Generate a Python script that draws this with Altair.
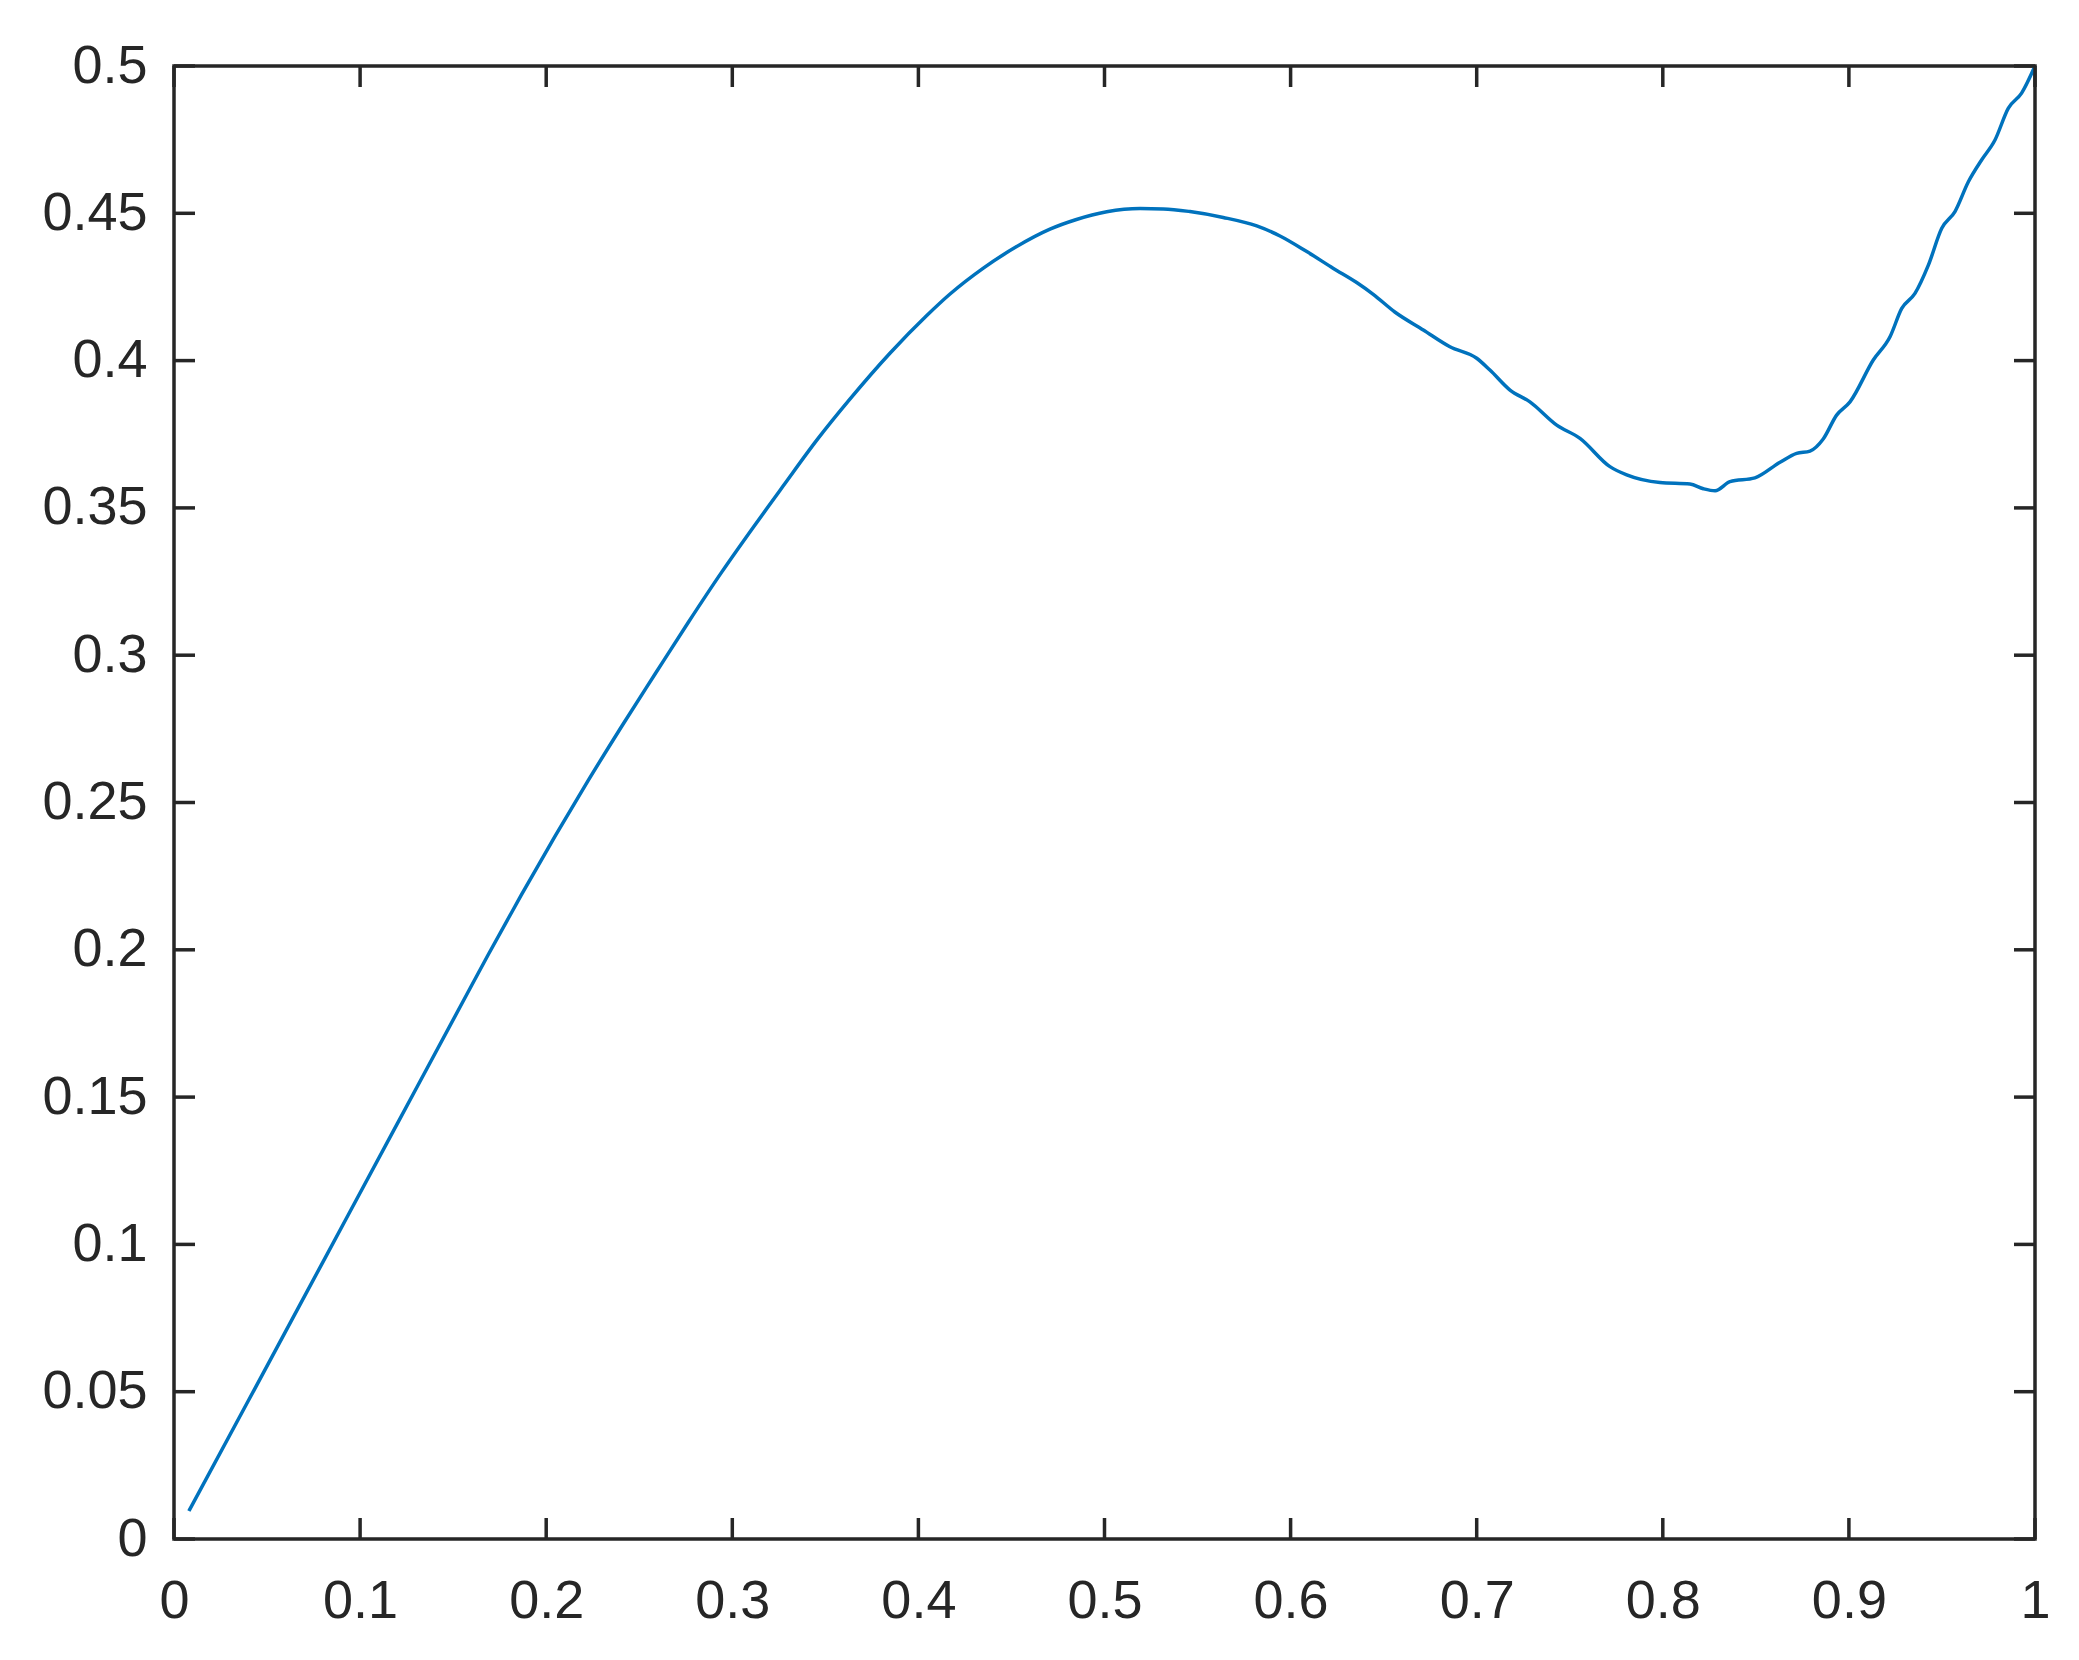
import altair as alt
import pandas as pd

# curve values
x_vals = [0.008, 0.040, 0.080, 0.120, 0.1555, 0.1689, 0.1868, 0.2047, 0.2226, 0.2406,
          0.2585, 0.2764, 0.2943, 0.3110, 0.3274, 0.3454, 0.3633, 0.3847, 0.4045, 0.4170,
          0.4349, 0.4528, 0.4707, 0.4845, 0.5012, 0.5191, 0.5316, 0.5459, 0.5638, 0.5818,
          0.5943, 0.6087, 0.6230, 0.6355, 0.6444, 0.6560, 0.6713, 0.6856, 0.7000, 0.7071,
          0.7179, 0.7286, 0.7430, 0.7555, 0.7716, 0.7806, 0.7985, 0.8146, 0.8218, 0.8281,
          0.8361, 0.8495, 0.8630, 0.8719, 0.8791, 0.8862, 0.8934, 0.9006, 0.9131, 0.9221,
          0.9284, 0.9355, 0.9427, 0.9499, 0.9570, 0.9642, 0.9713, 0.9785, 0.9857, 0.9928,
          1.0]
y_vals = [0.0095, 0.0470, 0.0940, 0.1410, 0.1827, 0.1984, 0.2188, 0.2385, 0.2575, 0.2759,
          0.2936, 0.3112, 0.3282, 0.3432, 0.3575, 0.3730, 0.3870, 0.4025, 0.4153, 0.4226,
          0.4314, 0.4387, 0.4446, 0.4478, 0.4505, 0.4516, 0.4515, 0.4506, 0.4486, 0.4457,
          0.4423, 0.4370, 0.4313, 0.4265, 0.4225, 0.4165, 0.4104, 0.4047, 0.4008, 0.3968,
          0.3900, 0.3860, 0.3781, 0.3736, 0.3640, 0.3612, 0.3586, 0.3581, 0.3565, 0.3558,
          0.3589, 0.3602, 0.3655, 0.3685, 0.3693, 0.3734, 0.3815, 0.3860, 0.4002, 0.4081,
          0.4177, 0.4228, 0.4324, 0.4449, 0.4506, 0.4607, 0.4681, 0.4749, 0.4857, 0.4908,
          0.5]

x_ticks = [0, 0.1, 0.2, 0.3, 0.4, 0.5, 0.6, 0.7, 0.8, 0.9, 1]
y_ticks = [0, 0.05, 0.1, 0.15, 0.2, 0.25, 0.3, 0.35, 0.4, 0.45, 0.5]

W, H = 1861, 1473
TICK = 21
AX = "#262626"
FONT = "Liberation Sans"

xs = alt.Scale(domain=[0, 1], nice=False, zero=False)
ys = alt.Scale(domain=[0, 0.5], nice=False, zero=False)

xaxis = alt.Axis(values=x_ticks, format="~g", title=None, domain=False, ticks=False, grid=False,
                 labelFontSize=54, labelFont=FONT, labelColor=AX, labelPadding=35,
                 labelFlush=False, labelOverlap=False, labelBound=False)
yaxis = alt.Axis(values=y_ticks, format="~g", title=None, domain=False, ticks=False, grid=False,
                 labelFontSize=54, labelFont=FONT, labelColor=AX, labelPadding=27,
                 labelFlush=False, labelOverlap=False, labelBound=False)

df = pd.DataFrame({"x": x_vals, "y": y_vals})
dxt = pd.DataFrame({"x": x_ticks})
dyt = pd.DataFrame({"y": y_ticks})

line = alt.Chart(df).mark_line(color="#0072BD", strokeWidth=3.5, interpolate="monotone").encode(
    x=alt.X("x:Q", scale=xs, axis=xaxis),
    y=alt.Y("y:Q", scale=ys, axis=yaxis),
)

rule_kw = dict(color=AX, strokeWidth=3.5)
bottom = alt.Chart(dxt).mark_rule(**rule_kw).encode(
    x=alt.X("x:Q", scale=xs, axis=xaxis), y=alt.value(H), y2=alt.value(H - TICK))
top = alt.Chart(dxt).mark_rule(**rule_kw).encode(
    x=alt.X("x:Q", scale=xs, axis=xaxis), y=alt.value(0), y2=alt.value(TICK))
left = alt.Chart(dyt).mark_rule(**rule_kw).encode(
    y=alt.Y("y:Q", scale=ys, axis=yaxis), x=alt.value(0), x2=alt.value(TICK))
right = alt.Chart(dyt).mark_rule(**rule_kw).encode(
    y=alt.Y("y:Q", scale=ys, axis=yaxis), x=alt.value(W), x2=alt.value(W - TICK))

chart = alt.layer(line, bottom, top, left, right).properties(
    width=W, height=H,
    padding={"left": 166, "top": 58, "right": 36, "bottom": 113},
    autosize=alt.AutoSizeParams(type="none"),
    background="white",
).configure_view(stroke=AX, strokeWidth=3.5)

chart.save("out.html", embed_options={"renderer": "svg", "actions": False})
